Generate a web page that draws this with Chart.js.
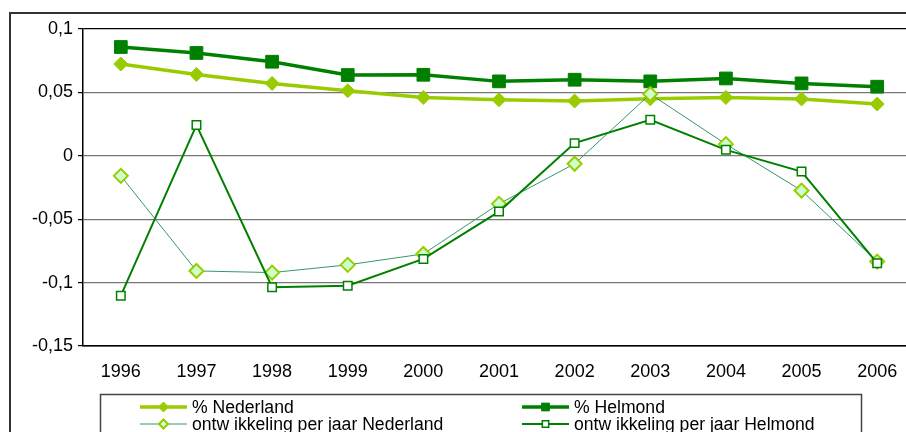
<!DOCTYPE html>
<html>
<head>
<meta charset="utf-8">
<script src="https://cdn.jsdelivr.net/npm/chart.js@4/dist/chart.umd.min.js"></script>
<style>
  html, body { margin: 0; padding: 0; background: #fff; overflow: hidden; width: 906px; height: 432px; }
  #frame { position: absolute; left: 9px; top: 12px; width: 960px; height: 480px; border: 2px solid #333; box-sizing: border-box; }
  #wrap { position: absolute; left: 0; top: 0; width: 940px; height: 460px; }
</style>
</head>
<body>
<div id="frame"></div>
<div id="wrap"><canvas id="chart"></canvas></div>
<script>
const years = ['1996', '1997', '1998', '1999', '2000', '2001', '2002', '2003', '2004', '2005', '2006']
const pctNederland = [0.0724, 0.0642, 0.0571, 0.0513, 0.046, 0.0442, 0.0432, 0.045, 0.046, 0.0448, 0.0408]
const pctHelmond = [0.0858, 0.0811, 0.0742, 0.0637, 0.0639, 0.0587, 0.06, 0.0587, 0.061, 0.0571, 0.0545]
const ontwNederland = [-0.0158, -0.0908, -0.0921, -0.086, -0.0774, -0.0379, -0.0063, 0.0487, 0.0092, -0.0274, -0.0834]
const ontwHelmond = [-0.1103, 0.0242, -0.1037, -0.1024, -0.0813, -0.044, 0.01, 0.0284, 0.0047, -0.0124, -0.0847]
const seriesNames = ['% Nederland', '% Helmond', 'ontw ikkeling per jaar Nederland', 'ontw ikkeling per jaar Helmond']

const FONT = 'Liberation Sans, Arial, sans-serif'

// legend in a box, two columns, like the original sheet
const boxLegend = {
  id: 'boxLegend',
  afterDraw(chart) {
    const ctx = chart.ctx
    ctx.save()
    ctx.strokeStyle = '#444'
    ctx.lineWidth = 1.5
    ctx.strokeRect(100.5, 394.5, 761, 80)

    const slots = [
      { x: 140, y: 407 }, { x: 522, y: 407 },
      { x: 140, y: 424 }, { x: 522, y: 424 }
    ]
    chart.data.datasets.forEach((ds, i) => {
      const s = slots[i]
      ctx.strokeStyle = ds.borderColor
      ctx.lineWidth = ds.borderWidth
      ctx.beginPath()
      ctx.moveTo(s.x, s.y)
      ctx.lineTo(s.x + 47, s.y)
      ctx.stroke()
      ctx.fillStyle = ds.pointBackgroundColor
      ctx.strokeStyle = ds.pointBorderColor
      ctx.lineWidth = ds.pointBorderWidth
      Chart.helpers.drawPoint(ctx, {
        pointStyle: ds.pointStyle,
        radius: ds.legendRadius,
        borderWidth: ds.pointBorderWidth
      }, s.x + 23.5, s.y)
      ctx.fillStyle = '#000'
      ctx.font = '17.6px ' + FONT
      ctx.textBaseline = 'middle'
      ctx.textAlign = 'left'
      ctx.fillText(ds.label, s.x + 52, s.y + 1)
    })
    ctx.restore()
  }
}

new Chart(document.getElementById('chart'), {
  type: 'line',
  data: {
    labels: years,
    datasets: [
      {
        label: seriesNames[0],
        data: pctNederland,
        borderColor: '#99CC00',
        borderWidth: 3.5,
        pointStyle: 'rectRot',
        pointRadius: 7,
        pointBackgroundColor: '#99CC00',
        pointBorderColor: '#99CC00',
        pointBorderWidth: 1,
        legendRadius: 5,
        order: 3
      },
      {
        label: seriesNames[1],
        data: pctHelmond,
        borderColor: '#008000',
        borderWidth: 3.5,
        pointStyle: 'rect',
        pointRadius: 9,
        pointBackgroundColor: '#008000',
        pointBorderColor: '#008000',
        pointBorderWidth: 1,
        legendRadius: 5.5,
        order: 2
      },
      {
        label: seriesNames[2],
        data: ontwNederland,
        borderColor: '#339966',
        borderWidth: 1,
        pointStyle: 'rectRot',
        pointRadius: 7,
        pointBackgroundColor: '#CCFFCC',
        pointBorderColor: '#99CC00',
        pointBorderWidth: 2,
        legendRadius: 4.5,
        order: 1
      },
      {
        label: seriesNames[3],
        data: ontwHelmond,
        borderColor: '#008000',
        borderWidth: 2,
        pointStyle: 'rect',
        pointRadius: 6,
        pointBackgroundColor: '#FFFFFF',
        pointBorderColor: '#008000',
        pointBorderWidth: 1.5,
        legendRadius: 4.5,
        order: 0
      }
    ]
  },
  options: {
    responsive: true,
    maintainAspectRatio: false,
    animation: false,
    events: [],
    layout: { padding: { top: 29, right: 25, left: 0, bottom: 0 } },
    elements: { line: { tension: 0 } },
    plugins: {
      legend: { display: false },
      tooltip: { enabled: false }
    },
    scales: {
      x: {
        offset: true,
        grid: { display: false, drawTicks: false },
        border: { color: '#000', width: 1.5 },
        ticks: { color: '#000', font: { family: FONT, size: 18 }, padding: 15, maxRotation: 0 },
        afterFit(scale) { scale.height = 460 - 346 }
      },
      y: {
        min: -0.15,
        max: 0.1,
        grid: {
          color: ctx => (ctx.tick && (ctx.tick.value > 0.099 || ctx.tick.value < -0.149)) ? '#000' : '#777',
          lineWidth: 1.2,
          tickColor: '#000',
          tickLength: 5
        },
        border: { color: '#000', width: 1.5 },
        ticks: {
          stepSize: 0.05,
          color: '#000',
          padding: 5,
          font: { family: FONT, size: 18 },
          callback: v => String(Math.round(v * 100) / 100).replace('.', ',')
        },
        afterFit(scale) { scale.width = 83 }
      }
    }
  },
  plugins: [boxLegend]
})
</script>
</body>
</html>
